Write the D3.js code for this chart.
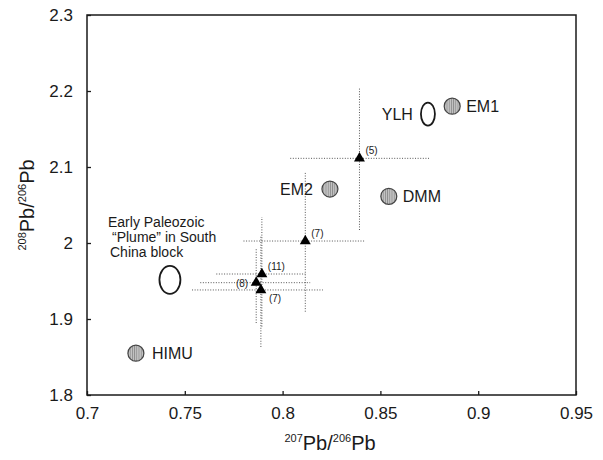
<!DOCTYPE html>
<html>
<head>
<meta charset="utf-8">
<script src="https://cdn.jsdelivr.net/npm/d3@7"></script>
<style>
  html, body { margin: 0; padding: 0; background: #fff; }
  svg { display: block; font-family: "Liberation Sans", Arial, Helvetica, sans-serif; }
</style>
</head>
<body>
<svg id="chart" width="603" height="460"></svg>
<script>
// ---- data ----
const xTicks = [0.7, 0.75, 0.8, 0.85, 0.9, 0.95];
const yTicks = [1.8, 1.9, 2.0, 2.1, 2.2, 2.3];
const xTickLabels = ["0.7", "0.75", "0.8", "0.85", "0.9", "0.95"];
const yTickLabels = ["1.8", "1.9", "2", "2.1", "2.2", "2.3"];

const endmemberNames = ["HIMU", "EM2", "DMM", "EM1"];
const endmemberX = [0.725, 0.8242, 0.8543, 0.8867];
const endmemberY = [1.855, 2.071, 2.0614, 2.180];

const fieldNames = ["YLH", "Early Paleozoic"];
const fieldX = [0.8743, 0.7424];
const fieldY = [2.1697, 1.9515];

const sampleLabels = ["(5)", "(7)", "(11)", "(8)", "(7)"];
const sampleX = [0.8393, 0.8116, 0.7894, 0.7865, 0.7889];
const sampleY = [2.1114, 2.0026, 1.9592, 1.9478, 1.9382];
const sampleXLo = [0.8039, 0.7800, 0.7661, 0.7579, 0.7537];
const sampleXHi = [0.8754, 0.8422, 0.8116, 0.8141, 0.8206];
const sampleYLo = [2.0171, 1.9096, 1.8900, 1.8947, 1.8632];
const sampleYHi = [2.2049, 2.0938, 2.0342, 1.9934, 2.0100];

// ---- layout ----
(function () {
const svg = d3.select("#chart");
const mLeft = 87, mRight = 576, mTop = 15, mBottom = 395;
const x = d3.scaleLinear().domain([0.7, 0.95]).range([mLeft, mRight]);
const y = d3.scaleLinear().domain([1.8, 2.3]).range([mBottom, mTop]);
const ink = "#1a1a1a";

// hatch pattern for end-member circles
const defs = svg.append("defs");
const pat = defs.append("pattern").attr("id", "hatch")
  .attr("patternUnits", "userSpaceOnUse").attr("width", 2.2).attr("height", 4);
pat.append("rect").attr("width", 2.2).attr("height", 4).attr("fill", "#c4c4c4");
pat.append("rect").attr("x", 0).attr("width", 0.8).attr("height", 4).attr("fill", "#8a8a8a");

// error bars (dotted)
const samples = sampleX.map((v, i) => ({
  x: v, y: sampleY[i], xlo: sampleXLo[i], xhi: sampleXHi[i],
  ylo: sampleYLo[i], yhi: sampleYHi[i], label: sampleLabels[i]
}));
const eb = svg.append("g").attr("stroke", "#555").attr("stroke-width", 1)
  .attr("stroke-dasharray", "1,1.6").attr("fill", "none");
samples.forEach(d => {
  eb.append("line").attr("x1", x(d.xlo)).attr("x2", x(d.xhi))
    .attr("y1", y(d.y)).attr("y2", y(d.y));
  eb.append("line").attr("x1", x(d.x)).attr("x2", x(d.x))
    .attr("y1", y(d.ylo)).attr("y2", y(d.yhi));
});

// axes frame
svg.append("rect").attr("x", mLeft).attr("y", mTop)
  .attr("width", mRight - mLeft).attr("height", mBottom - mTop)
  .attr("fill", "none").attr("stroke", ink).attr("stroke-width", 1.5);

const xAxis = d3.axisBottom(x).tickValues(xTicks)
  .tickFormat((d, i) => xTickLabels[i]).tickSizeInner(-4).tickSizeOuter(0).tickPadding(12);
const gx = svg.append("g").attr("transform", `translate(0,${mBottom})`).call(xAxis);
gx.select(".domain").remove();
gx.selectAll(".tick line").attr("stroke", ink).attr("stroke-width", 1.3);
gx.selectAll(".tick text").attr("font-size", 17).attr("fill", ink)
  .attr("font-family", "Liberation Sans, Arial, sans-serif");

const yAxis = d3.axisLeft(y).tickValues(yTicks)
  .tickFormat((d, i) => yTickLabels[i]).tickSizeInner(-4).tickSizeOuter(0).tickPadding(14);
const gy = svg.append("g").attr("transform", `translate(${mLeft},0)`).call(yAxis);
gy.select(".domain").remove();
gy.selectAll(".tick line").attr("stroke", ink).attr("stroke-width", 1.3);
gy.selectAll(".tick text").attr("font-size", 17).attr("fill", ink)
  .attr("font-family", "Liberation Sans, Arial, sans-serif");

// axis titles
const xt = svg.append("text").attr("x", 330).attr("y", 450)
  .attr("text-anchor", "middle").attr("fill", ink).attr("font-size", 20);
xt.append("tspan").attr("font-size", 11).attr("dy", -8).text("207");
xt.append("tspan").attr("dy", 8).text("Pb");
xt.append("tspan").text("/");
xt.append("tspan").attr("font-size", 11).attr("dy", -8).text("206");
xt.append("tspan").attr("dy", 8).text("Pb");

const yt = svg.append("text").attr("transform", "translate(34,205) rotate(-90)")
  .attr("text-anchor", "middle").attr("fill", ink).attr("font-size", 20);
yt.append("tspan").attr("font-size", 11).attr("dy", -8).text("208");
yt.append("tspan").attr("dy", 8).text("Pb");
yt.append("tspan").text("/");
yt.append("tspan").attr("font-size", 11).attr("dy", -8).text("206");
yt.append("tspan").attr("dy", 8).text("Pb");

// end-member circles
const labelPos = { HIMU: [16, "start"], EM2: [-17, "end"], DMM: [14, "start"], EM1: [14, "start"] };
endmemberNames.forEach((n, i) => {
  const cx = x(endmemberX[i]), cy = y(endmemberY[i]);
  svg.append("circle").attr("cx", cx).attr("cy", cy).attr("r", 8)
    .attr("fill", "url(#hatch)").attr("stroke", "#444").attr("stroke-width", 1.2);
  svg.append("text").attr("x", cx + labelPos[n][0]).attr("y", cy + 6)
    .attr("text-anchor", labelPos[n][1]).attr("font-size", 16).attr("fill", ink).text(n);
});

// fields (open ellipses)
const fieldSize = [[7, 11.5], [10.5, 14]];
fieldNames.forEach((n, i) => {
  svg.append("ellipse").attr("cx", x(fieldX[i])).attr("cy", y(fieldY[i]))
    .attr("rx", fieldSize[i][0]).attr("ry", fieldSize[i][1])
    .attr("fill", "none").attr("stroke", ink).attr("stroke-width", 1.8);
});
svg.append("text").attr("x", x(fieldX[0]) - 15).attr("y", y(fieldY[0]) + 6)
  .attr("text-anchor", "end").attr("font-size", 16).attr("fill", ink).text("YLH");
const fl = svg.append("text").attr("font-size", 14).attr("fill", ink);
fl.append("tspan").attr("x", 108).attr("y", 227).text("Early Paleozoic");
fl.append("tspan").attr("x", 112).attr("y", 242).text("“Plume”  in South");
fl.append("tspan").attr("x", 110).attr("y", 257).text("China block");

// sample triangles
const tri = d3.symbol().type(d3.symbolTriangle).size(52);
const offs = [[6, -4, "start"], [6, -4, "start"], [6, -4, "start"], [-8, 4, "end"], [8, 12, "start"]];
samples.forEach((d, i) => {
  svg.append("path").attr("d", tri())
    .attr("transform", `translate(${x(d.x)},${y(d.y)})`).attr("fill", "#000");
  svg.append("text").attr("x", x(d.x) + offs[i][0]).attr("y", y(d.y) + offs[i][1])
    .attr("text-anchor", offs[i][2]).attr("font-size", 10).attr("fill", ink).text(d.label);
});
})();
</script>
</body>
</html>
